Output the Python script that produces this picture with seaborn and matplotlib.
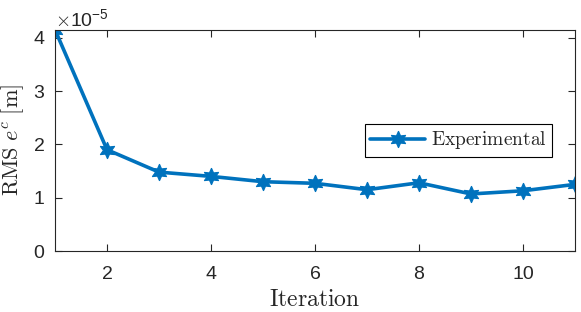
import numpy as np
import pandas as pd
import matplotlib
matplotlib.use("Agg")
import matplotlib.pyplot as plt
import seaborn as sns
from matplotlib.ticker import ScalarFormatter

# data
iteration = [1, 2, 3, 4, 5, 6, 7, 8, 9, 10, 11]
rms_ec = [4.15, 1.90, 1.48, 1.40, 1.30, 1.27, 1.15, 1.28, 1.07, 1.13, 1.25]  # x1e-5 m

df = pd.DataFrame({"Iteration": iteration, "RMS": np.array(rms_ec) * 1e-5})

sns.set_style("ticks")
plt.rcParams["font.family"] = ["Liberation Sans", "DejaVu Sans"]
plt.rcParams["mathtext.fontset"] = "cm"

fig = plt.figure(figsize=(5.81, 3.12), dpi=100)
ax = fig.add_axes([0.0947, 0.1955, 0.895, 0.709])

sns.lineplot(data=df, x="Iteration", y="RMS", ax=ax, color="#0072BD",
             linewidth=2.6, marker=(6, 1, 0), markersize=12,
             markeredgecolor="#0072BD", label=r"$\mathrm{Experimental}$")

ax.set_xlim(1, 11)
ax.set_ylim(0, 4.15e-5)
ax.set_xticks([2, 4, 6, 8, 10])
ax.set_yticks(np.array([0, 1, 2, 3, 4]) * 1e-5)

fmt = ScalarFormatter(useMathText=True)
fmt.set_powerlimits((-3, 3))
ax.yaxis.set_major_formatter(fmt)

ax.set_xlabel(r"$\mathrm{Iteration}$", fontsize=17, labelpad=4)
ax.set_ylabel(r"$\mathrm{RMS}\ e^c\ [\mathrm{m}]$", fontsize=16, labelpad=5)

for s in ax.spines.values():
    s.set_visible(True)
    s.set_color("#262626")
    s.set_linewidth(0.8)
ax.tick_params(direction="in", top=True, right=True, labelsize=14,
               length=5, color="#262626", labelcolor="#262626", width=0.8)
ax.tick_params(axis="x", pad=11)
ax.tick_params(axis="y", pad=7)
ax.yaxis.get_offset_text().set_fontsize(14)

leg = ax.legend(loc="center right", bbox_to_anchor=(0.975, 0.5), fontsize=14,
                fancybox=False, framealpha=1, edgecolor="black",
                borderpad=0.3, handlelength=2.8, handletextpad=0.3)
leg.get_frame().set_linewidth(0.8)

fig.savefig("out.png", dpi=100)
